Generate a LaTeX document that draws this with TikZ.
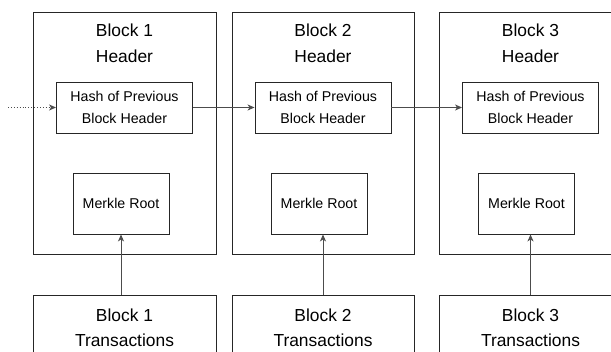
\documentclass[tikz,border=0pt]{standalone}
\usepackage{fontspec}
\setmainfont{Liberation Sans}
\usepackage{xcolor}
\usetikzlibrary{positioning,arrows.meta}
\tikzstyle{hdr} = [rectangle, draw=black!85, minimum width=183pt, minimum height=242pt, inner sep=0pt]
\tikzstyle{ttl} = [align=center, inner sep=0pt, font=\fontsize{17.4}{26}\selectfont]
\tikzstyle{hsh} = [rectangle, draw=black!85, fill=white, minimum width=136pt, minimum height=51pt, inner sep=0pt, align=center, font=\fontsize{14.2}{22}\selectfont]
\tikzstyle{mrk} = [rectangle, draw=black!85, minimum width=96pt, minimum height=61pt, inner sep=0pt, font=\fontsize{14.2}{22}\selectfont]
\tikzstyle{txs} = [rectangle, draw=black!85, minimum width=183pt, minimum height=64pt, inner sep=0pt, align=center, font=\fontsize{17.4}{25}\selectfont]

\begin{document}
\begin{tikzpicture}[x=1pt,y=-1pt,->,>={Stealth[length=7pt,width=6pt,inset=2pt]},draw=black!70,line width=0.9pt]
  \clip (0,0) rectangle (611,352);
  \node[hdr] (H_1) at (124.5,133) {};
  \node[hdr, minimum width=182pt] (H_2) at (323,133) {};
  \node[hdr] (H_3) at (530.5,133) {};
  \node[ttl] (T_1) [below=12pt of H_1.north] {Block 1\\Header};
  \node[ttl] (T_2) [below=12pt of H_2.north] {Block 2\\Header};
  \node[ttl] (T_3) [below=12pt of H_3.north] {Block 3\\Header};
  \node[hsh] (P_1) [below=70pt of H_1.north] {Hash of Previous\\Block Header};
  \node[hsh] (P_2) [below=70pt of H_2.north] {Hash of Previous\\Block Header};
  \node[hsh] (P_3) [below=70pt of H_3.north] {Hash of Previous\\Block Header};
  \node[mrk] (M_1) [below=161pt of H_1.north, xshift=-3.5pt] {Merkle Root};
  \node[mrk] (M_2) [below=161pt of H_2.north, xshift=-4pt] {Merkle Root};
  \node[mrk] (M_3) [below=161pt of H_3.north, xshift=-4pt] {Merkle Root};
  \node[txs] (X_1) [below=41pt of H_1.south] {Block 1\\Transactions};
  \node[txs] (X_2) [below=41pt of H_2.south, minimum width=182pt] {Block 2\\Transactions};
  \node[txs] (X_3) [below=41pt of H_3.south] {Block 3\\Transactions};
  \coordinate (S) at (8,107.5);

  \path (S) edge[dotted] (P_1);
  \path (P_1) edge (P_2);
  \path (P_2) edge (P_3);
  \path (X_1.north -| M_1.south) edge (M_1.south);
  \path (X_2.north) edge (X_2.north |- M_2.south);
  \path (X_3.north) edge (X_3.north |- M_3.south);
\end{tikzpicture}
\end{document}
